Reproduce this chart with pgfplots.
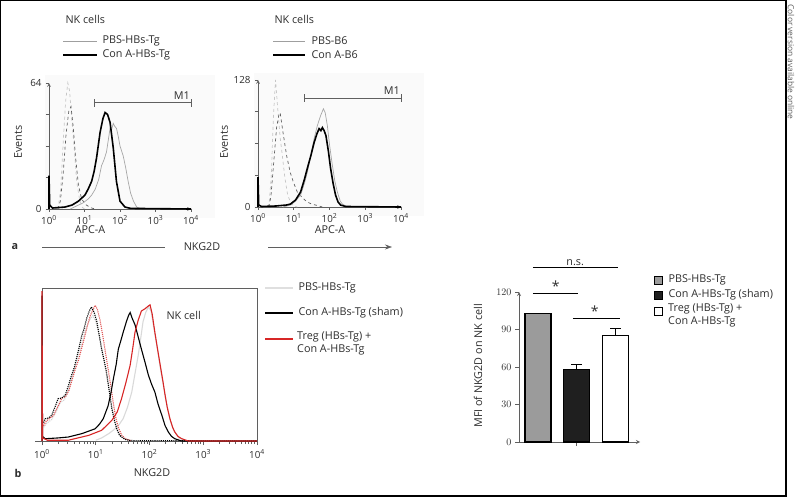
\documentclass[border=0pt]{standalone}
\usepackage{pgfplots}
\pgfplotsset{compat=1.18}
\usepackage{fontspec}
\setmainfont{Open Sans}
\usetikzlibrary{arrows.meta}

\definecolor{axgray}{RGB}{95,95,95}
\definecolor{txt}{RGB}{45,45,45}
\definecolor{myred}{RGB}{215,38,38}
\definecolor{bargray}{RGB}{155,155,155}

\pgfplotsset{
  base/.style={scale only axis, clip=false,
    axis line style={-, draw=axgray, line width=0.7pt},
    tick style={axgray, line width=0.6pt},
    tick label style={font=\fontsize{9.8}{10}\selectfont, text=txt},
    major tick length=3pt, minor tick length=2pt},
  hista/.style={base, width=142pt, height=126pt, xmin=0, xmax=4, ymin=0,
    axis x line=bottom, axis y line=left,
    xtick={0,1,2,3,4},
    xticklabels={10\textsuperscript{0},10\textsuperscript{1},10\textsuperscript{2},10\textsuperscript{3},10\textsuperscript{4}},
    tick align=outside,
    yticklabel style={xshift=-1pt}},
}

\begin{document}
\begin{tikzpicture}[font=\fontsize{10.8}{12.5}\selectfont, text=txt]
\path[use as bounding box] (0,0) rectangle (796pt,-497pt);
\draw[line width=1.2pt] (0.6pt,-0.6pt) rectangle (786pt,-496pt);
\node[rotate=-90, anchor=west, font=\fontsize{8.4}{9}\selectfont, text=axgray] at (791pt,-1pt) {Color version available online};

% ---------- panel a, left ----------
\fill[gray!4] (45pt,-75pt) rectangle (215pt,-218pt);
\node[anchor=west] at (62pt,-19pt) {NK cells};
\draw[gray!75, line width=0.7pt] (63pt,-41pt) -- (97pt,-41pt);
\node[anchor=west] at (99pt,-41pt) {PBS-HBs-Tg};
\draw[black, line width=2pt] (63pt,-55pt) -- (97pt,-55pt);
\node[anchor=west] at (99pt,-55pt) {Con A-HBs-Tg};

\begin{axis}[hista, at={(49pt,-209pt)}, anchor=south west, ymax=64,
  ytick={0,16,32,48,64}, yticklabels={0,,,,64}]
\addplot[gray!45, dashed, line width=0.7pt] coordinates {
 (0.22,0)(0.27,2)(0.33,10)(0.40,34)(0.47,55)(0.53,64)(0.58,60)(0.64,46)
 (0.71,31)(0.78,14)(0.86,5)(0.93,1)(1.0,0)};
\addplot[gray!75!black, dashed, line width=0.7pt] coordinates {
 (0.25,0)(0.32,4)(0.40,18)(0.48,38)(0.56,50)(0.62,52)(0.68,42)(0.75,26)
 (0.83,12)(0.92,5)(1.05,2)(1.2,0.5)(1.3,0)};
\addplot[gray!70, line width=0.7pt] coordinates {
 (0.6,0)(0.83,2)(0.95,3)(1.1,5)(1.2,7)(1.3,10)(1.4,15)(1.48,22)(1.55,25)
 (1.62,29)(1.67,35)(1.72,41)(1.76,40)(1.81,43.5)(1.85,42)(1.9,41)(1.95,37)
 (2.0,32)(2.09,27)(2.16,21)(2.23,14)(2.3,8)(2.38,4)(2.47,1)(2.6,0)};
\addplot[black, line width=1.6pt] coordinates {
 (0,0)(0,17)(0.02,2)(0.1,0.5)(0.45,1)(0.65,2)(0.83,4)(1.01,7)(1.1,10)
 (1.2,14)(1.27,19)(1.34,26)(1.44,39)(1.52,46)(1.58,49)(1.65,48)(1.72,44)
 (1.81,31)(1.9,14)(2.0,4)(2.14,1)(2.3,0.3)(4,0)};
\draw[axgray, line width=0.7pt] (axis cs:1.29,54) -- (axis cs:4,54)
  (axis cs:1.29,52) -- (axis cs:1.29,56) (axis cs:4,52) -- (axis cs:4,56);
\node[anchor=south east, inner sep=1pt] at (axis cs:4,55) {M1};
\end{axis}
\node[rotate=90] at (18pt,-142pt) {Events};
\node at (90pt,-230pt) {APC-A};

% ---------- panel a, right ----------
\fill[gray!4] (254pt,-73pt) rectangle (424pt,-216pt);
\node[anchor=west] at (271pt,-19pt) {NK cells};
\draw[gray!75, line width=0.7pt] (273pt,-41pt) -- (305pt,-41pt);
\node[anchor=west] at (308pt,-41pt) {PBS-B6};
\draw[black, line width=2pt] (273pt,-55pt) -- (305pt,-55pt);
\node[anchor=west] at (308pt,-55pt) {Con A-B6};

\begin{axis}[hista, at={(258pt,-207pt)}, anchor=south west, ymax=128,
  width=143pt, height=127pt,
  ytick={0,32,64,96,128}, yticklabels={0,,,,128}]
\addplot[gray!45, dashed, line width=0.7pt] coordinates {
 (0.25,0)(0.31,3)(0.37,30)(0.43,90)(0.49,128)(0.55,100)(0.62,70)(0.68,52)
 (0.75,30)(0.83,12)(0.91,5)(1.0,1)(1.1,0)};
\addplot[gray!75!black, dashed, line width=0.7pt] coordinates {
 (0.3,0)(0.36,10)(0.44,45)(0.52,80)(0.58,92)(0.62,95)(0.7,75)(0.8,52)
 (0.9,35)(1.0,24)(1.1,15)(1.25,9)(1.38,5)(1.5,3)(1.66,1.5)(1.8,0)};
\addplot[gray!70, line width=0.7pt] coordinates {
 (0.7,0)(0.91,2)(1.05,6)(1.19,12)(1.3,24)(1.38,35)(1.48,52)(1.57,69)
 (1.66,82)(1.75,92)(1.83,99)(1.88,95)(1.94,82)(2.0,63)(2.08,42)(2.15,26)
 (2.22,15)(2.3,6)(2.36,3)(2.5,0)};
\addplot[black, line width=1.6pt] coordinates {
 (0,0)(0,30)(0.02,2)(0.1,0.5)(0.5,1)(0.8,2)(0.91,3)(1.05,7)(1.19,15)
 (1.3,28)(1.38,39)(1.48,52)(1.57,65)(1.65,74)(1.71,79)(1.76,77)(1.8,80)
 (1.85,77)(1.9,72)(1.97,56)(2.03,39)(2.1,24)(2.17,12)(2.24,5)(2.31,2)
 (2.45,0.5)(4,0)};
\draw[axgray, line width=0.7pt] (axis cs:1.29,110) -- (axis cs:4,110)
  (axis cs:1.29,106) -- (axis cs:1.29,114) (axis cs:4,106) -- (axis cs:4,114);
\node[anchor=south east, inner sep=1pt] at (axis cs:4,112) {M1};
\end{axis}
\node[rotate=90] at (224pt,-142pt) {Events};
\node at (330pt,-230pt) {APC-A};

% ---------- NKG2D bar ----------
\node[font=\fontsize{10.8}{12}\selectfont\bfseries] at (15pt,-247pt) {a};
\draw[axgray, line width=0.6pt] (42pt,-247pt) -- (165pt,-247pt);
\node at (202pt,-247pt) {NKG2D};
\draw[axgray, line width=0.6pt, -{Stealth[length=7pt,width=5pt]}] (268pt,-247pt) -- (392pt,-247pt);

% ---------- panel b histogram ----------
\begin{axis}[base, at={(42pt,-441pt)}, anchor=south west, width=215pt, height=153pt,
  xmin=0, xmax=4, ymin=0, ymax=100, axis line style={draw=axgray},
  ytick=\empty, xtick={0,1,2,3,4},
  xticklabels={10\textsuperscript{0},10\textsuperscript{1},10\textsuperscript{2},10\textsuperscript{3},10\textsuperscript{4}},
  minor xtick={0.301,0.477,0.602,0.699,0.778,0.845,0.903,0.954,
    1.301,1.477,1.602,1.699,1.778,1.845,1.903,1.954,
    2.301,2.477,2.602,2.699,2.778,2.845,2.903,2.954,
    3.301,3.477,3.602,3.699,3.778,3.845,3.903,3.954},
  xtick pos=bottom, tick align=outside, major tick length=4pt, minor tick length=3pt,
  xticklabel style={yshift=-1pt}]
\addplot[gray!30, line width=1.1pt] coordinates {
 (1.0,0.5)(1.11,2)(1.25,5)(1.36,8)(1.44,11)(1.51,14.6)(1.59,22)(1.67,32)
 (1.73,44)(1.79,56)(1.84,68)(1.88,78)(1.93,84)(1.98,87.6)(2.03,85)(2.08,74)
 (2.14,62)(2.2,48)(2.26,36)(2.32,24)(2.38,14)(2.45,7)(2.55,2)(2.7,0)};
\addplot[gray!35, densely dotted, line width=1.1pt] coordinates {
 (0.03,9)(0.1,12)(0.18,14)(0.26,19)(0.34,25)(0.42,27)(0.5,34)(0.58,44)
 (0.66,54)(0.74,64)(0.82,74)(0.9,80)(0.95,82)(1.0,78)(1.06,70)(1.12,58)
 (1.18,47)(1.24,35)(1.3,22)(1.36,12)(1.42,6)(1.5,2)(1.6,0.5)};
\addplot[myred!80, densely dotted, line width=1.1pt] coordinates {
 (0.03,10)(0.08,13)(0.15,15)(0.22,17)(0.3,23)(0.37,28)(0.44,29)(0.5,33)
 (0.56,40)(0.62,47)(0.68,53)(0.74,61)(0.8,69)(0.85,76)(0.9,82)(0.95,86)
 (0.99,88.7)(1.03,86)(1.08,79)(1.13,69)(1.18,58)(1.23,47)(1.28,36)(1.33,24)
 (1.38,14)(1.43,8)(1.48,4)(1.55,1.5)(1.65,0.3)};
\addplot[black, densely dotted, line width=1.1pt] coordinates {
 (0.03,12)(0.06,14.6)(0.12,15)(0.18,16.8)(0.24,22)(0.3,27.7)(0.36,28)
 (0.43,29.8)(0.49,36)(0.55,43)(0.6,48)(0.64,53.8)(0.69,61)(0.74,69)(0.78,73)
 (0.83,80)(0.88,85)(0.92,87.6)(0.97,84)(1.02,78)(1.06,70)(1.11,60)(1.16,52)
 (1.2,45)(1.25,33)(1.3,21)(1.35,13)(1.39,8)(1.44,4)(1.48,2.6)(1.55,1)
 (1.65,0.3)(4,0)};
\addplot[black, line width=1.1pt] coordinates {
 (0,0)(0,95)(0.01,3)(0.06,1.5)(0.3,2)(0.49,2.6)(0.74,4.8)(0.99,8)(1.07,11)
 (1.14,14.6)(1.23,23)(1.28,31)(1.33,41)(1.38,50)(1.42,60)(1.47,66)(1.51,71)
 (1.57,78)(1.61,82)(1.64,84)(1.68,80)(1.73,76)(1.79,68)(1.85,60)(1.92,51)
 (1.98,43)(2.04,37)(2.1,32)(2.16,24)(2.23,16.8)(2.29,10)(2.35,5.9)(2.41,3)
 (2.47,1.5)(2.6,0)(4,0)};
\addplot[myred, line width=1.1pt] coordinates {
 (0,0)(0,98)(0.01,2)(0.1,0.5)(0.49,0.5)(0.87,3.7)(1.11,7)(1.3,13.5)(1.4,19)
 (1.48,27.7)(1.56,38)(1.64,49.5)(1.69,61)(1.73,71)(1.79,79)(1.85,85)
 (1.92,86.5)(1.97,88)(2.01,89)(2.05,83)(2.1,71)(2.15,60)(2.2,49.5)(2.25,39)
 (2.29,30)(2.33,22)(2.38,14.6)(2.43,9)(2.47,5.9)(2.53,3)(2.6,1.5)(2.72,0)(4,0)};
\end{axis}
\draw[axgray, line width=0.7pt] (35pt,-441pt) -- (42pt,-441pt);
\node[anchor=west] at (163pt,-315pt) {NK cell};
\node at (152pt,-473pt) {NKG2D};
\node[font=\fontsize{10.8}{12}\selectfont\bfseries] at (18pt,-473pt) {b};

% legend b
\draw[gray!25, line width=2.6pt] (265pt,-288pt) -- (293pt,-288pt);
\node[anchor=west] at (295pt,-288pt) {PBS-HBs-Tg};
\draw[black, line width=2.6pt] (265pt,-313pt) -- (293pt,-313pt);
\node[anchor=west] at (295pt,-313pt) {Con A-HBs-Tg (sham)};
\draw[myred, line width=2.6pt] (265pt,-339pt) -- (293pt,-339pt);
\node[anchor=north west, align=left, inner sep=0pt] at (297pt,-332pt) {Treg (HBs-Tg) +\\Con A-HBs-Tg};

% ---------- bar chart ----------
\begin{axis}[base, at={(519pt,-442pt)}, anchor=south west, width=121pt, height=150pt,
  xmin=0.51, xmax=3.63, ymin=0, ymax=120,
  axis x line=bottom, axis y line=left, axis line style={draw=axgray, line width=0.8pt},
  ytick={0,30,60,90,120}, xtick={2}, xticklabels={}, tick align=outside,
  major tick length=4pt,
  ylabel={MFI of NKG2D on NK cell},
  ylabel style={at={(axis description cs:-0.339,0.507)}, anchor=center, font=\fontsize{10.8}{12}\selectfont},
  ybar, bar width=26pt, bar shift=0pt]
\addplot[fill=bargray, draw=black, line width=1.1pt] coordinates {(1,103)};
\addplot[fill=black!88, draw=black, line width=1.1pt,
  error bars/.cd, y dir=plus, y explicit,
  error bar style={line width=1.1pt, black},
  error mark options={rotate=90, mark size=5.5pt, line width=1.1pt, black}]
  coordinates {(2,58) +- (0,4)};
\addplot[fill=white, draw=black, line width=1.1pt,
  error bars/.cd, y dir=plus, y explicit,
  error bar style={line width=1.1pt, black},
  error mark options={rotate=90, mark size=5.5pt, line width=1.1pt, black}]
  coordinates {(3,85) +- (0,6)};
\draw[black, line width=0.7pt] (axis cs:0.87,140) -- (axis cs:3.06,140);
\node[anchor=south, inner sep=1pt] at (axis cs:1.96,140) {n.s.};
\draw[black, line width=0.7pt] (axis cs:0.87,119.2) -- (axis cs:2.03,119.2);
\node[font=\fontsize{14}{14}\selectfont] at (axis cs:1.46,124.5) {*};
\draw[black, line width=0.7pt] (axis cs:1.9,99.2) -- (axis cs:3.12,99.2);
\node[font=\fontsize{14}{14}\selectfont] at (axis cs:2.46,104.5) {*};
\end{axis}

% legend bars
\draw[black, fill=bargray, line width=0.6pt] (654pt,-276pt) rectangle (662pt,-284pt);
\node[anchor=west] at (665pt,-280pt) {PBS-HBs-Tg};
\draw[black, fill=black!88, line width=0.6pt] (654pt,-291pt) rectangle (662pt,-299pt);
\node[anchor=west] at (665pt,-295pt) {Con A-HBs-Tg (sham)};
\draw[black, fill=white, line width=0.6pt] (654pt,-307pt) rectangle (662pt,-315pt);
\node[anchor=north west, align=left, inner sep=0pt] at (668pt,-304pt) {Treg (HBs-Tg) +\\Con A-HBs-Tg};
\end{tikzpicture}
\end{document}
